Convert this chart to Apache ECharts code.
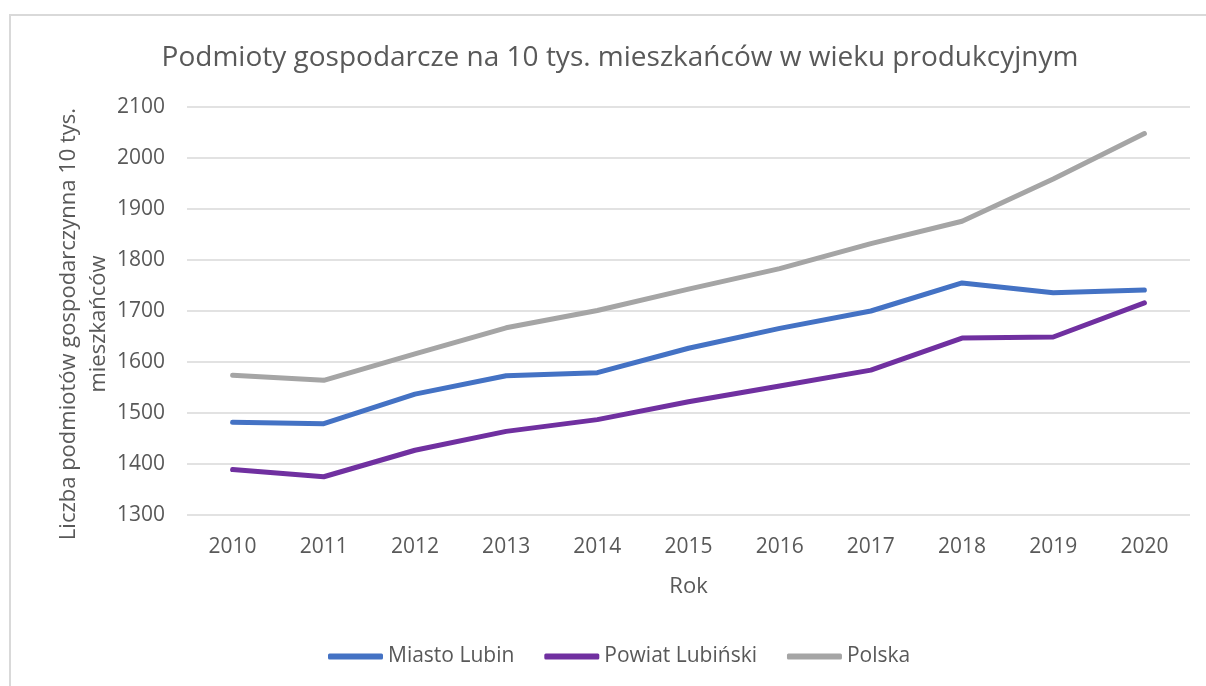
<!DOCTYPE html>
<html>
<head>
<meta charset="utf-8">
<script src="https://cdn.jsdelivr.net/npm/echarts@6/dist/echarts.min.js"></script>
<style>
  html, body { margin: 0; padding: 0; background: #fff; }
  #chart { width: 1206px; height: 686px; }
</style>
</head>
<body>
<div id="chart"></div>
<script>
var years = ['2010', '2011', '2012', '2013', '2014', '2015', '2016', '2017', '2018', '2019', '2020'];
var miastoLubin = [1482, 1479, 1537, 1573, 1579, 1627, 1666, 1700, 1755, 1736, 1741];
var powiatLubinski = [1389, 1375, 1427, 1464, 1487, 1522, 1553, 1584, 1647, 1649, 1716];
var polska = [1574, 1564, 1616, 1667, 1701, 1743, 1783, 1832, 1876, 1959, 2048];

var fontName = 'Open Sans';
var textGray = '#595959';

var chart = echarts.init(document.getElementById('chart'));

function lineSeries(name, data, color) {
	return {
		name : name,
		type : 'line',
		data : data,
		symbol : 'none',
		smooth : false,
		lineStyle : {
			color : color,
			width : 5,
			cap : 'round',
			join : 'round'
		},
		itemStyle : {
			color : color
		}
	};
}

var option = {
	backgroundColor : '#fff',
	animation : false,
	graphic : [ {
		type : 'rect',
		shape : { x : 10, y : 15, width : 1400, height : 900 },
		style : { fill : 'none', stroke : '#d9d9d9', lineWidth : 2 },
		silent : true
	} ],
	title : {
		text : 'Podmioty gospodarcze na 10 tys. mieszkańców w wieku produkcyjnym',
		left : 615,
		textAlign : 'center',
		top : 39,
		textStyle : {
			color : textGray,
			fontSize : 28,
			fontWeight : 'normal',
			fontFamily : fontName
		}
	},
	legend : {
		bottom : 14,
		left : 323,
		itemWidth : 55,
		itemHeight : 6,
		itemGap : 30,
		icon : 'roundRect',
		textStyle : {
			color : textGray,
			fontSize : 21,
			fontFamily : fontName
		},
		data : [ 'Miasto Lubin', 'Powiat Lubiński', 'Polska' ]
	},
	grid : {
		left : 187,
		right : 16,
		top : 107,
		bottom : 171
	},
	xAxis : {
		type : 'category',
		data : years,
		boundaryGap : true,
		name : 'Rok',
		nameLocation : 'middle',
		nameGap : 61,
		nameTextStyle : {
			color : textGray,
			fontSize : 22,
			fontFamily : fontName
		},
		axisLine : { show : false },
		axisTick : { show : false },
		axisLabel : {
			color : textGray,
			fontSize : 21,
			fontFamily : fontName,
			margin : 22
		}
	},
	yAxis : {
		type : 'value',
		min : 1300,
		max : 2100,
		interval : 100,
		name : 'Liczba podmiotów gospodarczynna 10 tys.\nmieszkańców',
		nameLocation : 'middle',
		nameGap : 73,
		nameRotate : 90,
		nameMoveOverlap : false,
		nameTextStyle : {
			color : textGray,
			fontSize : 22,
			fontFamily : fontName,
			lineHeight : 30,
			padding : [ 0, 26, 0, 0 ]
		},
		axisLine : { show : false },
		axisTick : { show : false },
		axisLabel : {
			color : textGray,
			fontSize : 21,
			fontFamily : fontName,
			margin : 22,
			formatter : function (v) { return String(v); }
		},
		splitLine : {
			lineStyle : { color : '#d9d9d9', width : 1.5 }
		}
	},
	series : [
		lineSeries('Miasto Lubin', miastoLubin, '#4472C4'),
		lineSeries('Powiat Lubiński', powiatLubinski, '#7030A0'),
		lineSeries('Polska', polska, '#A5A5A5')
	]
};

chart.setOption(option);
</script>
</body>
</html>
